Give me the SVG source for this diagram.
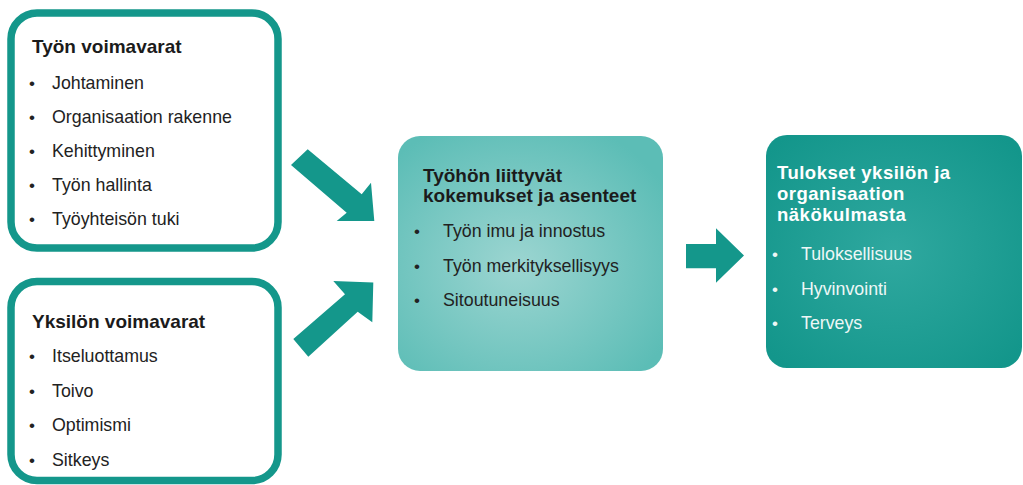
<svg xmlns="http://www.w3.org/2000/svg" width="1023" height="485" viewBox="0 0 1023 485">
<defs>
<style>
.frame{fill:#ffffff;stroke:#14978b;stroke-width:7.5}
.arrow{fill:#14978b}
.t{font-family:"Liberation Sans",Arial,sans-serif;font-size:19px;font-weight:bold;fill:#1b1b1b}
.i{font-family:"Liberation Sans",Arial,sans-serif;font-size:17.8px;fill:#222222}
.tw{font-family:"Liberation Sans",Arial,sans-serif;font-size:18.5px;font-weight:bold;letter-spacing:0.5px;fill:#ffffff}
.iw{font-family:"Liberation Sans",Arial,sans-serif;font-size:17.8px;fill:#eef7f6}
.b{font-size:17px}
</style>
<radialGradient id="gMid" cx="0.45" cy="0.55" r="0.65">
<stop offset="0" stop-color="#9cd5d1"/>
<stop offset="1" stop-color="#5cbdb6"/>
</radialGradient>
<radialGradient id="gRight" cx="0.5" cy="0.5" r="0.65">
<stop offset="0" stop-color="#2fa89f"/>
<stop offset="1" stop-color="#13968b"/>
</radialGradient>
</defs>
<rect width="1023" height="485" fill="#ffffff"/>

<g id="tyon-voimavarat">
<rect class="frame" x="11" y="13" width="267" height="235" rx="26"/>
<text class="t" x="32" y="53">Työn voimavarat</text>
<text class="i" x="29" y="88.5"><tspan class="b">•</tspan><tspan x="52">Johtaminen</tspan></text>
<text class="i" x="29" y="122.7"><tspan class="b">•</tspan><tspan x="52">Organisaation rakenne</tspan></text>
<text class="i" x="29" y="156.9"><tspan class="b">•</tspan><tspan x="52">Kehittyminen</tspan></text>
<text class="i" x="29" y="191.1"><tspan class="b">•</tspan><tspan x="52">Työn hallinta</tspan></text>
<text class="i" x="29" y="225.3"><tspan class="b">•</tspan><tspan x="52">Työyhteisön tuki</tspan></text>
</g>

<g id="yksilon-voimavarat">
<rect class="frame" x="11" y="281.5" width="267" height="199" rx="26"/>
<text class="t" x="32" y="327.5">Yksilön voimavarat</text>
<text class="i" x="29" y="362"><tspan class="b">•</tspan><tspan x="52">Itseluottamus</tspan></text>
<text class="i" x="29" y="396.5"><tspan class="b">•</tspan><tspan x="52">Toivo</tspan></text>
<text class="i" x="29" y="431"><tspan class="b">•</tspan><tspan x="52">Optimismi</tspan></text>
<text class="i" x="29" y="465.5"><tspan class="b">•</tspan><tspan x="52">Sitkeys</tspan></text>
</g>

<g id="kokemukset">
<rect x="398" y="136" width="265" height="235" rx="22" fill="url(#gMid)"/>
<text class="t" x="423" y="181.5">Työhön liittyvät<tspan x="423" y="201.5">kokemukset ja asenteet</tspan></text>
<text class="i" x="414" y="237"><tspan class="b">•</tspan><tspan x="443">Työn imu ja innostus</tspan></text>
<text class="i" x="414" y="271.5"><tspan class="b">•</tspan><tspan x="443">Työn merkityksellisyys</tspan></text>
<text class="i" x="414" y="305.5"><tspan class="b">•</tspan><tspan x="443">Sitoutuneisuus</tspan></text>
</g>

<g id="tulokset">
<rect x="766" y="135" width="256" height="233" rx="21" fill="url(#gRight)"/>
<text class="tw" x="777" y="179">Tulokset yksilön ja<tspan x="777" y="200">organisaation</tspan><tspan x="777" y="221">näkökulmasta</tspan></text>
<text class="iw" x="772" y="260"><tspan class="b">•</tspan><tspan x="801">Tuloksellisuus</tspan></text>
<text class="iw" x="772" y="295"><tspan class="b">•</tspan><tspan x="801">Hyvinvointi</tspan></text>
<text class="iw" x="772" y="328.5"><tspan class="b">•</tspan><tspan x="801">Terveys</tspan></text>
</g>

<g id="connectors">
<polygon class="arrow" points="291,165 307.7,149.3 361.7,194.3 371,182.7 374.3,221 336.7,221 346.7,212.7"/>
<polygon class="arrow" points="308.3,356.7 293.3,339 345,294.3 333.3,281 373.3,282.5 372.3,322.3 357.7,311.7"/>
<polygon class="arrow" points="686,244 716,244 716,228.3 744,255.5 716,282.7 716,268.3 686,268.3"/>
</g>
</svg>
